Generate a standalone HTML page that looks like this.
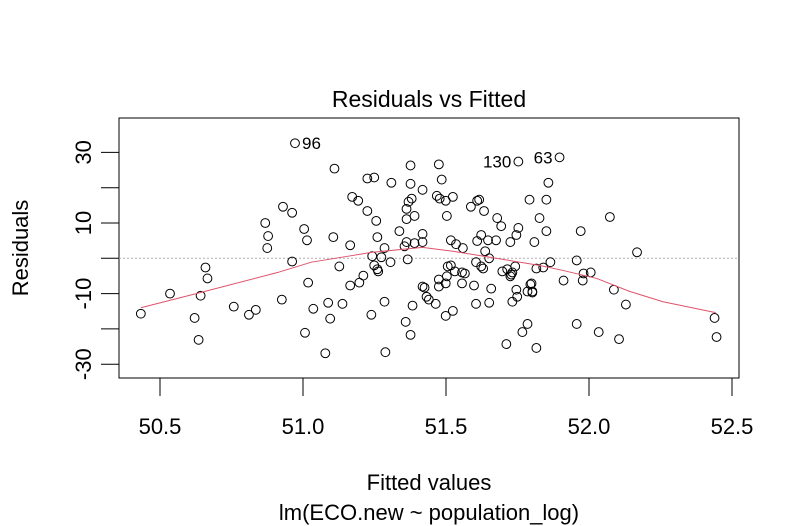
<!DOCTYPE html>
<html><head><meta charset="utf-8"><style>
html,body{margin:0;padding:0;background:#fff;}
svg{display:block;font-family:"Liberation Sans",Arial,sans-serif;}
</style></head><body>
<svg id="chart" width="799" height="526" viewBox="0 0 799 526" xmlns="http://www.w3.org/2000/svg">
<rect width="799" height="526" fill="#fff"/>
<text x="429" y="107" font-size="23" text-anchor="middle">Residuals vs Fitted</text>
<text x="429" y="490" font-size="22" text-anchor="middle">Fitted values</text>
<text x="429" y="520" font-size="22" text-anchor="middle">lm(ECO.new ~ population_log)</text>
<text x="0" y="0" font-size="22" text-anchor="middle" transform="translate(28,248) rotate(-90)">Residuals</text>
<rect x="119" y="118" width="620" height="260" fill="none" stroke="#000" stroke-width="1"/>
<g id="grid"></g><g id="axes"></g><g id="marks"></g>
</svg>
<script>
const fitted = [50.972,51.110,50.930,50.962,50.868,50.878,50.875,51.004,51.014,51.106,50.962,50.659,50.666,50.535,50.642,50.433,50.621,50.635,50.758,50.811,50.835,50.926,51.018,51.036,51.088,51.095,51.138,51.007,51.078,51.127,
51.376,51.475,51.225,51.249,51.309,51.376,51.485,51.418,51.172,51.193,51.380,51.369,51.468,51.478,51.499,51.524,51.225,51.362,51.390,51.362,51.503,51.256,51.337,51.418,51.260,51.165,51.285,51.362,51.390,51.418,51.355,51.366,51.242,51.274,51.249,51.260,51.263,51.306,51.211,51.197,51.165,51.285,51.239,51.383,51.359,51.376,51.288,51.418,51.425,51.432,51.440,51.464,51.475,51.475,51.499,51.503,51.506,51.517,51.517,51.535,51.559,51.531,51.556,51.566,51.556,51.524,51.499,51.598,51.605,51.651,51.658,51.587,51.609,51.616,51.633,51.679,51.693,51.623,51.609,51.647,51.675,51.637,51.651,51.605,51.623,51.630,51.753,51.792,51.827,51.753,51.746,51.725,51.809,51.697,51.714,51.728,51.732,51.742,51.725,51.816,51.799,51.746,51.785,51.802,51.749,51.732,51.785,51.767,51.711,51.816,
51.897,51.858,51.851,51.851,51.971,52.073,52.168,51.957,51.865,51.840,51.981,52.006,51.978,51.911,51.795,51.802,52.087,52.129,51.957,52.034,52.105,52.439,52.446];
const residuals = [32.6,25.4,14.6,12.9,10.0,6.3,2.9,8.3,5.1,6.0,-0.9,-2.6,-5.7,-10.0,-10.6,-15.7,-16.9,-23.1,-13.7,-16.0,-14.6,-11.7,-6.9,-14.3,-12.6,-17.1,-12.9,-21.1,-26.9,-2.3,
26.3,26.6,22.6,22.9,21.4,21.1,22.3,19.4,17.4,16.3,16.9,16.0,17.7,16.9,16.3,17.4,13.4,14.0,12.0,11.1,12.0,10.6,7.7,6.9,6.0,3.7,2.9,4.6,4.3,4.6,3.4,-0.3,0.6,0.3,-2.0,-3.1,-3.7,-1.1,-4.9,-6.9,-7.7,-12.3,-16.0,-13.4,-18.0,-21.7,-26.6,-8.0,-8.3,-10.9,-11.7,-12.9,-6.0,-8.0,-7.1,-5.1,-2.3,-2.0,5.1,4.0,2.9,-3.7,-4.0,-4.3,-7.1,-14.9,-16.3,-7.7,-12.9,-12.6,-8.6,14.6,16.3,16.6,13.4,11.4,9.1,6.6,4.9,5.1,5.1,2.0,0.0,-1.1,-2.3,-2.9,27.4,16.6,11.4,8.6,6.6,4.6,4.6,-3.7,-3.1,-4.6,-4.0,-2.3,-5.1,-2.9,-7.1,-8.9,-9.4,-9.4,-10.9,-12.3,-18.6,-20.9,-24.3,-25.4,
28.6,21.4,16.6,7.7,7.7,11.7,1.7,-0.6,-1.1,-2.6,-4.3,-4.0,-6.3,-6.3,-7.4,-9.7,-8.9,-13.1,-18.6,-20.9,-22.9,-16.9,-22.3];
const smoothX = [50.433,50.642,50.912,51.029,51.158,51.242,51.418,51.524,51.654,51.826,51.907,52.027,52.143,52.259,52.443];
const smoothY = [-14.0,-9.7,-4.0,-1.1,0.6,1.7,3.1,2.0,0.3,-2.0,-3.4,-5.7,-9.4,-12.3,-15.4];
const labelIds = ["96","130","63"];
const labelX = [50.972,51.753,51.897];
const labelY = [32.6,27.4,28.6];
const labelSide = ["right","left","left"];
const xTicks = [50.5,51.0,51.5,52.0,52.5];
const xTickLabels = ["50.5","51.0","51.5","52.0","52.5"];
const yTicks = [-30,-20,-10,0,10,20,30];
const yTickLabels = ["-30","-10","10","30"];
const yTickLabelVals = [-30,-10,10,30];

const NS="http://www.w3.org/2000/svg";
const sx = v => 160 + 286*(v-50.5);
const sy = v => 258.3 - 3.53*v;
function mk(tag, attrs, parent){const e=document.createElementNS(NS,tag);for(const k in attrs)e.setAttribute(k,attrs[k]);parent.appendChild(e);return e;}
const axes=document.getElementById('axes'), marks=document.getElementById('marks'), grid=document.getElementById('grid');

const zl=mk('line',{x1:119,x2:739,y1:sy(0),y2:sy(0),stroke:'#b0b0b0','stroke-dasharray':'2,2','stroke-width':1},grid);



xTicks.forEach((t,i)=>{
  const l=mk('line',{x1:sx(t),x2:sx(t),y1:378,y2:396,stroke:'#000'},axes);
  
  
  const tx=mk('text',{x:sx(t),y:434,'font-size':22,'text-anchor':'middle'},axes);
  tx.textContent=xTickLabels[i];
  
  
});
mk('line',{x1:sx(xTicks[0]),x2:sx(xTicks[xTicks.length-1]),y1:378,y2:378,stroke:'#000'},axes);
yTicks.forEach(t=>{
  const l=mk('line',{x1:101,x2:119,y1:sy(t),y2:sy(t),stroke:'#000'},axes);
  
  
});
yTickLabelVals.forEach((t,i)=>{
  const tx=mk('text',{x:0,y:0,'font-size':22,'text-anchor':'middle',transform:`translate(91,${sy(t)}) rotate(-90)`},axes);
  tx.textContent=yTickLabels[i];
  
  
});

fitted.forEach((x,i)=>{
  const c=mk('circle',{cx:sx(x),cy:sy(residuals[i]),r:4.4,fill:'none',stroke:'#000','stroke-width':1},marks);
  
  
});
const pts=smoothX.map((x,i)=>sx(x)+','+sy(smoothY[i])).join(' ');
const pl=mk('polyline',{points:pts,fill:'none',stroke:'#df536b','stroke-width':1},marks);


labelIds.forEach((id,i)=>{
  const r=labelSide[i]==='right';
  const tx=mk('text',{x:sx(labelX[i])+(r?7:-7),y:sy(labelY[i])+6,'font-size':17,'text-anchor':r?'start':'end'},marks);
  tx.textContent=id;
  
  
});
</script>
</body></html>
